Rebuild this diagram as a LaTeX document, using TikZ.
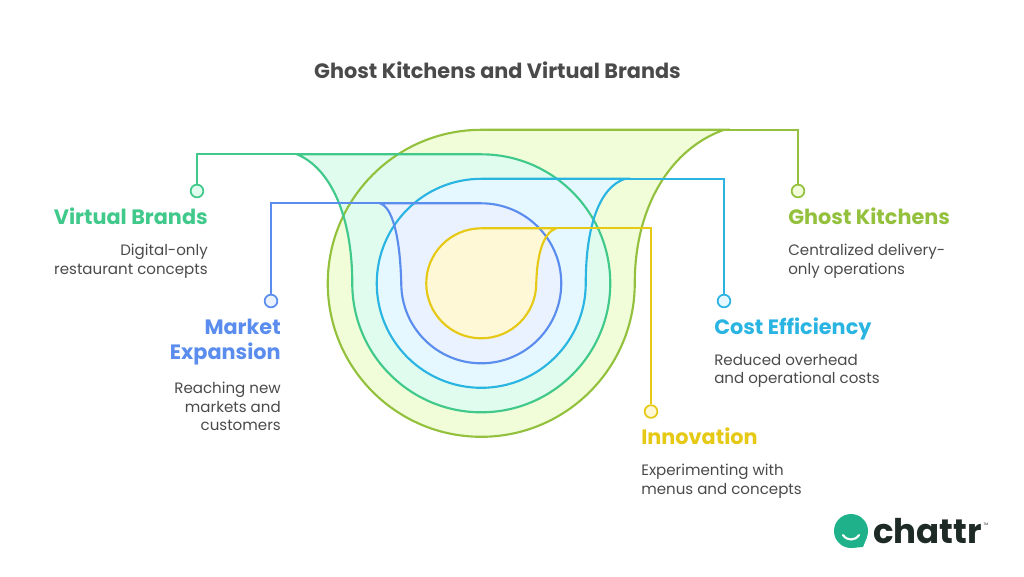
\documentclass[tikz,border=0pt]{standalone}
\usepackage{fontspec}
\setmainfont{Poppins}
\usepackage{tikz}

\definecolor{olivec}{RGB}{148,193,61}
\definecolor{greenc}{RGB}{64,201,138}
\definecolor{cyanc}{RGB}{42,180,226}
\definecolor{bluec}{RGB}{91,141,238}
\definecolor{yellowc}{RGB}{230,201,21}
\definecolor{olivef}{RGB}{241,253,216}
\definecolor{greenf}{RGB}{224,252,238}
\definecolor{cyanf}{RGB}{229,248,255}
\definecolor{bluef}{RGB}{234,241,255}
\definecolor{yellowf}{RGB}{255,248,214}
\definecolor{textc}{RGB}{74,74,74}
\definecolor{logoc}{RGB}{30,42,38}
\definecolor{tealc}{RGB}{31,178,138}

\newcommand{\olivedrop}{(724,129.8) .. controls (672,148) and (634.75,205) .. (634.75,283.3) arc [start angle=0, end angle=270, radius=153.5] -- cycle}
\newcommand{\greendrop}{(297,154.3) .. controls (330,168) and (352.25,215) .. (352.25,283.3) arc [start angle=180, end angle=-90, radius=129] -- cycle}
\newcommand{\cyandrop}{(625,178.8) .. controls (600,187) and (585.75,225) .. (585.75,283.3) arc [start angle=0, end angle=270, radius=104.5] -- cycle}
\newcommand{\bluedrop}{(380,203.3) .. controls (392,207) and (400,235) .. (401.25,283.3) arc [start angle=180, end angle=-90, radius=80] -- cycle}
\newcommand{\yellowdrop}{(556,228.3) .. controls (543,233) and (537,255) .. (536.25,283.3) arc [start angle=0, end angle=270, radius=55] -- cycle}

\tikzset{
  ringline/.style={line width=1.6pt},
  dotnode/.style={circle, draw, line width=1.3pt, minimum size=9.5pt, inner sep=0pt},
  headnode/.style={font=\bfseries\fontsize{15.6}{18.4}\selectfont, inner sep=0pt},
  descnode/.style={font=\fontsize{11.3}{13.7}\selectfont, text=textc, inner sep=0pt},
}

\begin{document}
\begin{tikzpicture}[x=0.75pt,y=0.75pt,yscale=-1,xscale=1]
\useasboundingbox (0,0) rectangle (1024,576);

%Title
\node [font=\bfseries\fontsize{15.6}{18}\selectfont, text=textc, inner sep=0pt] (title) at (497.5,70) {Ghost Kitchens and Virtual Brands};

%Fills
\fill [olivef] \olivedrop;
\fill [greenf] \greendrop;
\fill [cyanf] \cyandrop;
\fill [bluef] \bluedrop;
\fill [yellowf] \yellowdrop;

%Outlines
\draw [ringline, olivec] \olivedrop;
\draw [ringline, greenc] \greendrop;
\draw [ringline, cyanc] \cyandrop;
\draw [ringline, bluec] \bluedrop;
\draw [ringline, yellowc] \yellowdrop;

%Connector ends on the outlines
\coordinate (ghosttop) at (724,129.8);
\coordinate (virtualtop) at (297,154.3);
\coordinate (costtop) at (625,178.8);
\coordinate (markettop) at (380,203.3);
\coordinate (innotop) at (556,228.3);

%Dots
\node [dotnode, draw=olivec, fill=olivef] (ghostdot) at (798,191) {};
\node [dotnode, draw=greenc, fill=greenf] (virtualdot) at (197,191) {};
\node [dotnode, draw=cyanc, fill=cyanf] (costdot) at (724,301) {};
\node [dotnode, draw=bluec, fill=bluef] (marketdot) at (271,301) {};
\node [dotnode, draw=yellowc, fill=yellowf] (innodot) at (651,411.5) {};

%Connectors
\draw [ringline, olivec] (ghostdot) |- (ghosttop);
\draw [ringline, greenc] (virtualdot) |- (virtualtop);
\draw [ringline, cyanc] (costdot) |- (costtop);
\draw [ringline, bluec] (marketdot) |- (markettop);
\draw [ringline, yellowc] (innodot) |- (innotop);

%Labels
\node [headnode, text=greenc, anchor=east] (virtualhead) at (208,216.5) {Virtual Brands};
\node [descnode, anchor=north east, align=right] (virtualdesc) at (208,244) {Digital-only\\restaurant concepts};

\node [headnode, text=bluec, anchor=north east, align=right] (markethead) at (281,319) {Market\\Expansion};
\node [descnode, anchor=north east, align=right] (marketdesc) at (281,382) {Reaching new\\markets and\\customers};

\node [headnode, text=olivec, anchor=west] (ghosthead) at (788,216.5) {Ghost Kitchens};
\node [descnode, anchor=north west, align=left] (ghostdesc) at (788,244) {Centralized delivery-\\only operations};

\node [headnode, text=cyanc, anchor=west] (costhead) at (714,328.5) {Cost Efficiency};
\node [descnode, anchor=north west, align=left] (costdesc) at (714,354) {Reduced overhead\\and operational costs};

\node [headnode, text=yellowc, anchor=west] (innohead) at (641,436.5) {Innovation};
\node [descnode, anchor=north west, align=left] (innodesc) at (641,464) {Experimenting with\\menus and concepts};

%Logo
\fill [tealc] (851,531) circle [radius=17];
\fill [tealc] (851,531) -- (867,537) -- (863,547) -- (851,548) -- cycle;
\draw [white, line width=1.6pt, line cap=round] (843,535) .. controls (847,541) and (855,541) .. (859,535);
\node [font=\bfseries\fontsize{25.5}{30}\selectfont, text=logoc, anchor=west, inner sep=0pt] (logotext) at (873,531) {chattr};
\node [font=\fontsize{2.5}{3}\selectfont, text=logoc, inner sep=0pt] (logotm) at (986,524) {TM};
\end{tikzpicture}
\end{document}
